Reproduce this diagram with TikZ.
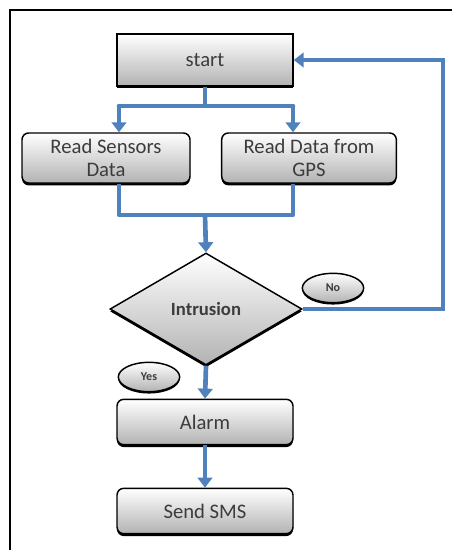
\documentclass[tikz,border=0pt]{standalone}
\usepackage{fontspec}
\setmainfont{Carlito}
\usetikzlibrary{arrows.meta,shapes.geometric,shadows}

\definecolor{flowblue}{RGB}{79,129,189}
\definecolor{txtgray}{RGB}{60,60,60}

\begin{document}
\begin{tikzpicture}[x=0.75pt,y=0.75pt,yscale=-1,xscale=1,
  box/.style={draw=black,line width=1.1pt,top color=white,bottom color=black!30,
    text=txtgray,font=\fontsize{15.5}{17.5}\selectfont,align=center,inner sep=0pt,
    drop shadow={shadow xshift=0pt,shadow yshift=-1.8pt,fill=black,opacity=1}},
  tag/.style={ellipse,draw=black,line width=1.1pt,top color=white,bottom color=black!30,
    text=txtgray,font=\bfseries\fontsize{9}{10}\selectfont,inner sep=0pt,
    minimum width=46pt,minimum height=22pt,
    drop shadow={shadow xshift=0pt,shadow yshift=-1.4pt,fill=black,opacity=1}},
  flow/.style={draw=flowblue,line width=3.5pt},
  arr/.style={flow,-{Triangle[width=11pt,length=7.5pt]}}]

\useasboundingbox (0,0) rectangle (452,550);
\draw [line width=1.5pt] (452,10) -- (10,10) -- (10,550) ;

\node [box,minimum width=132pt,minimum height=39pt] (start) at (205,60) {start};
\node [box,rounded corners=5pt,minimum width=126pt,minimum height=37.5pt] (sensors) at (106,158) {Read Sensors\\Data};
\node [box,rounded corners=5pt,minimum width=131pt,minimum height=37.5pt] (gps) at (309,158) {Read Data from\\GPS};
\node [box,diamond,aspect=1.71,minimum width=144pt,minimum height=84pt,font=\bfseries\fontsize{14}{16}\selectfont] (intr) at (206,309) {Intrusion};
\node [box,rounded corners=5pt,minimum width=132pt,minimum height=34pt] (alarm) at (205,422) {Alarm};
\node [box,rounded corners=5pt,minimum width=132pt,minimum height=34pt] (sms) at (205,511) {Send SMS};

\node [tag] (no) at (333,288) {No};
\node [tag] (yes) at (149,377) {Yes};

\coordinate (splitL) at (119,106);
\coordinate (splitR) at (293,106);
\coordinate (mergeL) at (119,215);
\coordinate (mergeR) at (293,215);
\coordinate (loop) at (443,0);

% start to the two readers
\draw [flow] (start.south) -- (start.south |- splitL);
\draw [flow,line cap=round] (splitL) -- (splitR);
\draw [arr] (splitL) -- (splitL |- sensors.north);
\draw [arr] (splitR) -- (splitR |- gps.north);

% readers join
\draw [flow,line join=round] (mergeL |- sensors.south) -- (mergeL) -- (mergeR) -- (mergeR |- gps.south);
\draw [arr] (start.south |- mergeL) -- (intr.north);

% decision
\draw [arr] (intr.east) -- (intr.east -| loop) |- (start.east);
\draw [arr] (intr.south) -- (alarm.north);
\draw [arr] (alarm.south) -- (sms.north);

\end{tikzpicture}
\end{document}
